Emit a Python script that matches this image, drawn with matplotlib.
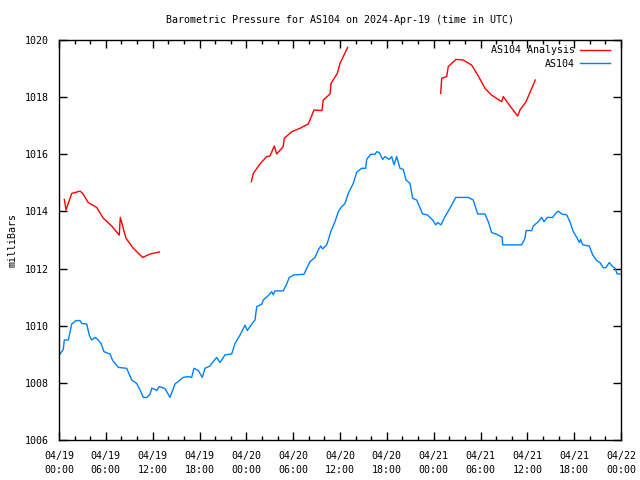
import matplotlib
matplotlib.use("Agg")
import matplotlib.pyplot as plt
from matplotlib.ticker import MultipleLocator

# hours since 2024-04-19 00:00 UTC
an1_h = [0.68, 0.9, 1.63, 2.69, 3.04, 3.75, 4.83, 5.68, 6.75, 7.72, 7.85, 8.58, 9.52, 10.72, 11.66, 12.85]
an1_p = [1014.42, 1014.05, 1014.63, 1014.71, 1014.63, 1014.31, 1014.14, 1013.76, 1013.49, 1013.17,
         1013.79, 1013.06, 1012.71, 1012.39, 1012.51, 1012.58]

an2_h = [24.64, 24.89, 25.75, 26.61, 27.03, 27.58, 27.89, 28.73, 28.86, 29.81, 30.87, 31.94, 32.67,
         33.69, 33.86, 34.72, 34.85, 35.65, 36.0, 36.42, 36.98]
an2_p = [1015.04, 1015.33, 1015.66, 1015.92, 1015.94, 1016.29, 1016.01, 1016.27, 1016.56, 1016.79,
         1016.91, 1017.06, 1017.55, 1017.53, 1017.90, 1018.11, 1018.48, 1018.83, 1019.18, 1019.42, 1019.74]

an3_h = [48.9, 49.03, 49.67, 49.87, 50.86, 51.79, 52.87, 53.72, 54.57, 55.43, 56.71, 56.92, 57.78,
         58.76, 59.06, 59.83, 61.02]
an3_p = [1018.13, 1018.66, 1018.72, 1019.07, 1019.32, 1019.30, 1019.12, 1018.74, 1018.31, 1018.07,
         1017.84, 1018.02, 1017.69, 1017.34, 1017.55, 1017.84, 1018.60]

obs_h = [0.13, 0.55, 0.68, 1.19, 1.63, 2.18, 2.69, 2.91, 3.55, 3.88, 4.19, 4.61, 5.03, 5.38, 5.76,
         6.53, 6.88, 7.60, 8.67, 9.31, 9.95, 10.38, 10.80, 11.24, 11.66, 11.88, 12.30, 12.52, 12.85,
         13.58, 14.22, 14.57, 14.86, 15.50, 15.92, 16.56, 17.00, 17.29, 17.85, 18.36, 18.70, 19.34,
         19.56, 20.20, 20.63, 21.27, 22.12, 22.55, 23.19, 23.41, 23.83, 24.12, 24.69, 25.11, 25.33,
         25.97, 26.17, 26.68, 27.25, 27.45, 27.67, 28.73, 29.17, 29.50, 30.11, 31.39, 31.73, 32.15,
         32.80, 33.22, 33.53, 33.78, 34.29, 34.50, 34.81, 35.36, 35.78, 36.22, 36.64, 37.06, 37.70,
         38.14, 38.78, 39.29, 39.42, 39.93, 40.48, 40.70, 41.03, 41.47, 41.76, 42.31, 42.62, 42.92,
         43.26, 43.68, 44.11, 44.45, 44.97, 45.31, 45.82, 46.59, 47.18, 47.87, 48.26, 48.51, 48.94,
         49.45, 50.09, 50.82, 52.43, 53.07, 53.64, 54.57, 55.00, 55.43, 56.07, 56.79, 56.84, 59.27,
         59.70, 59.83, 60.56, 60.76, 61.40, 61.84, 62.13, 62.55, 63.25, 63.54, 63.96, 64.40, 65.04,
         65.46, 65.89, 66.40, 66.66, 66.83, 67.09, 67.93, 68.37, 68.88, 69.31, 69.73, 70.04, 70.50,
         70.93, 71.23, 71.52, 71.87]
obs_p = [1009.01, 1009.17, 1009.50, 1009.50, 1010.06, 1010.18, 1010.18, 1010.08, 1010.06, 1009.67,
         1009.50, 1009.59, 1009.50, 1009.38, 1009.09, 1009.01, 1008.78, 1008.54, 1008.51, 1008.10,
         1007.98, 1007.75, 1007.49, 1007.49, 1007.60, 1007.81, 1007.77, 1007.73, 1007.87, 1007.80,
         1007.49, 1007.75, 1007.96, 1008.10, 1008.19, 1008.22, 1008.19, 1008.51, 1008.43, 1008.19,
         1008.51, 1008.59, 1008.68, 1008.89, 1008.71, 1008.98, 1009.01, 1009.38, 1009.67, 1009.79,
         1010.02, 1009.83, 1010.06, 1010.20, 1010.67, 1010.75, 1010.90, 1011.02, 1011.19, 1011.08,
         1011.22, 1011.22, 1011.46, 1011.69, 1011.78, 1011.80, 1012.01, 1012.24, 1012.39, 1012.65,
         1012.79, 1012.69, 1012.83, 1013.00, 1013.29, 1013.64, 1013.99, 1014.17, 1014.28, 1014.63,
         1014.98, 1015.37, 1015.51, 1015.51, 1015.82, 1016.00, 1016.00, 1016.09, 1016.06, 1015.82,
         1015.92, 1015.82, 1015.92, 1015.63, 1015.92, 1015.51, 1015.47, 1015.10, 1014.98, 1014.46,
         1014.40, 1013.91, 1013.88, 1013.70, 1013.53, 1013.61, 1013.53, 1013.82, 1014.11, 1014.49,
         1014.49, 1014.40, 1013.91, 1013.91, 1013.64, 1013.26, 1013.20, 1013.09, 1012.83, 1012.83,
         1013.06, 1013.33, 1013.33, 1013.49, 1013.64, 1013.79, 1013.64, 1013.79, 1013.79, 1013.91,
         1014.01, 1013.91, 1013.88, 1013.64, 1013.29, 1013.06, 1012.91, 1013.02, 1012.83, 1012.79,
         1012.48, 1012.28, 1012.21, 1012.03, 1012.03, 1012.21, 1012.07, 1012.01, 1011.81, 1011.81]

tick_hours = list(range(0, 73, 6))
tick_labels = ["04/19\n00:00", "04/19\n06:00", "04/19\n12:00", "04/19\n18:00",
               "04/20\n00:00", "04/20\n06:00", "04/20\n12:00", "04/20\n18:00",
               "04/21\n00:00", "04/21\n06:00", "04/21\n12:00", "04/21\n18:00",
               "04/22\n00:00"]

plt.rcParams['font.family'] = ['DejaVu Sans Mono']
plt.rcParams['font.size'] = 7.2

fig = plt.figure(figsize=(6.4, 4.8), dpi=100)
ax = fig.add_axes([59/640, 40/480, 562/640, 400/480])

red = '#ff0000'
blue = '#0080ff'
ax.plot(an1_h, an1_p, color=red, lw=1, label='AS104 Analysis')
ax.plot(an2_h, an2_p, color=red, lw=1)
ax.plot(an3_h, an3_p, color=red, lw=1)
ax.plot(obs_h, obs_p, color=blue, lw=1, label='AS104')

ax.set_xlim(0, 72)
ax.set_ylim(1006, 1020)
ax.set_xticks(tick_hours)
ax.set_xticklabels(tick_labels, linespacing=1.45)
ax.xaxis.set_minor_locator(MultipleLocator(2))
ax.set_yticks(range(1006, 1021, 2))
ax.tick_params(which='both', direction='in', top=True, right=True, width=1)
ax.tick_params(which='major', length=6, pad=8)
ax.tick_params(axis='y', which='major', pad=7)
ax.tick_params(which='minor', length=3)
for s in ax.spines.values():
    s.set_linewidth(1)

ax.set_ylabel('milliBars')
ax.yaxis.set_label_coords(-0.073, 0.5)
ax.set_title('Barometric Pressure for AS104 on 2024-Apr-19 (time in UTC)', fontsize=7.2, pad=12)
ax.legend(loc='upper right', bbox_to_anchor=(0.9874, 0.997), borderaxespad=0,
          frameon=False, markerfirst=False, handlelength=3.0,
          labelspacing=0.35, handletextpad=0.5)

fig.savefig('out.png', dpi=100)
